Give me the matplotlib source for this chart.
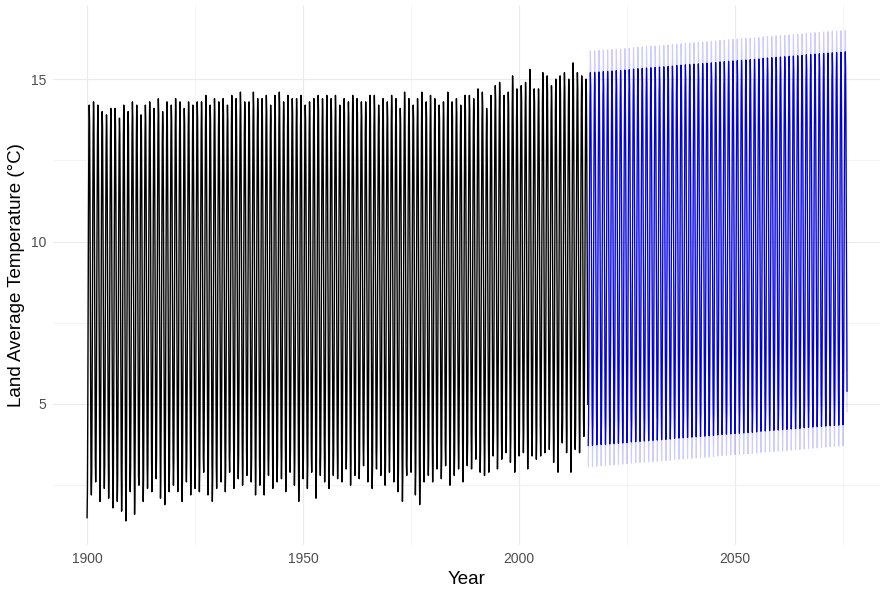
import numpy as np
import matplotlib.pyplot as plt

# yearly summer peaks and winter troughs, 1900-2015
hist_years = list(range(1900, 2016))
hist_peaks = [
    14.2, 14.3, 14.2, 14.0, 13.9, 14.1, 14.1, 13.8, 14.2, 14.0,
    14.3, 14.2, 13.9, 14.2, 14.3, 14.1, 14.4, 14.0, 14.3, 14.2,
    14.4, 14.3, 14.1, 14.3, 14.2, 14.3, 14.3, 14.5, 14.2, 14.4,
    14.3, 14.4, 14.2, 14.5, 14.4, 14.6, 14.3, 14.3, 14.6, 14.4,
    14.4, 14.5, 14.2, 14.5, 14.6, 14.3, 14.5, 14.4, 14.4, 14.5,
    14.2, 14.3, 14.4, 14.5, 14.4, 14.5, 14.4, 14.5, 14.2, 14.4,
    14.3, 14.5, 14.4, 14.3, 14.3, 14.5, 14.5, 14.2, 14.4, 14.3,
    14.5, 14.4, 14.1, 14.6, 14.4, 14.2, 14.4, 14.6, 14.3, 14.5,
    14.4, 14.2, 14.3, 14.6, 14.3, 14.4, 14.2, 14.5, 14.5, 14.4,
    14.7, 14.6, 14.1, 14.5, 14.8, 14.9, 14.5, 14.6, 15.1, 14.7,
    14.8, 14.9, 15.3, 14.7, 14.7, 15.2, 15.1, 14.8, 15.0, 15.1,
    15.2, 15.0, 15.5, 15.2, 15.1, 15.0,
]
hist_troughs = [
    1.5, 2.2, 2.6, 2.0, 2.4, 2.1, 1.8, 2.0, 1.7, 1.4,
    2.3, 1.6, 2.5, 2.0, 2.4, 2.3, 2.7, 2.1, 1.9, 2.3,
    2.5, 2.3, 2.0, 2.6, 2.2, 2.4, 2.3, 2.9, 2.2, 2.0,
    2.4, 2.6, 2.3, 2.9, 2.4, 2.7, 2.5, 2.8, 2.6, 2.2,
    2.5, 2.2, 2.8, 2.4, 2.6, 2.7, 2.3, 2.9, 2.5, 2.0,
    2.7, 2.4, 2.9, 2.1, 2.8, 2.6, 2.4, 2.8, 2.7, 2.6,
    3.0, 2.5, 2.8, 2.7, 3.1, 2.6, 2.4, 3.0, 2.8, 2.5,
    2.9, 2.6, 2.3, 2.0, 2.8, 2.9, 2.2, 1.9, 2.6, 2.8,
    2.6, 3.0, 2.7, 3.1, 2.5, 2.8, 3.0, 2.6, 3.1, 3.0,
    3.3, 2.9, 2.8, 2.9, 3.4, 3.0, 3.3, 3.5, 3.2, 2.9,
    3.4, 3.5, 3.0, 3.4, 3.3, 3.4, 3.5, 3.6, 3.2, 2.9,
    3.8, 3.5, 2.9, 3.6, 3.5, 4.0,
]

# forecast peaks and troughs, 2016-2075
fc_years = list(range(2016, 2076))
fc_peaks = [
    15.20, 15.21, 15.22, 15.23, 15.24, 15.25, 15.26, 15.27, 15.28, 15.29,
    15.31, 15.32, 15.33, 15.34, 15.35, 15.36, 15.37, 15.38, 15.39, 15.40,
    15.42, 15.43, 15.44, 15.45, 15.46, 15.47, 15.48, 15.49, 15.50, 15.51,
    15.53, 15.54, 15.55, 15.56, 15.57, 15.58, 15.59, 15.60, 15.61, 15.62,
    15.64, 15.65, 15.66, 15.67, 15.68, 15.69, 15.70, 15.71, 15.72, 15.73,
    15.75, 15.76, 15.77, 15.78, 15.79, 15.80, 15.81, 15.82, 15.83, 15.84,
]
fc_troughs = [
    3.72, 3.73, 3.74, 3.75, 3.76, 3.77, 3.78, 3.79, 3.80, 3.81,
    3.83, 3.84, 3.85, 3.86, 3.87, 3.88, 3.89, 3.90, 3.91, 3.92,
    3.94, 3.95, 3.96, 3.97, 3.98, 3.99, 4.00, 4.01, 4.02, 4.03,
    4.05, 4.06, 4.07, 4.08, 4.09, 4.10, 4.11, 4.12, 4.13, 4.14,
    4.16, 4.17, 4.18, 4.19, 4.20, 4.21, 4.22, 4.23, 4.24, 4.25,
    4.27, 4.28, 4.29, 4.30, 4.31, 4.32, 4.33, 4.34, 4.35, 4.36,
]
# half width of the forecast interval, by month (Jan..Dec)
fc_halfwidth = [0.65, 0.62, 0.60, 0.58, 0.60, 0.63, 0.66, 0.64, 0.60, 0.58, 0.60, 0.63]

# seasonal position between the year's trough (0) and peak (1), Jan..Dec
season = [0.0, 0.06, 0.24, 0.50, 0.74, 0.92, 1.0, 0.96, 0.80, 0.56, 0.29, 0.09]


def monthly(years, peaks, troughs):
    t, v = [], []
    for y, hi, lo in zip(years, peaks, troughs):
        for m, s in enumerate(season):
            t.append(y + m / 12)
            v.append(lo + s * (hi - lo))
    return np.array(t), np.array(v)


t_hist, v_hist = monthly(hist_years, hist_peaks, hist_troughs)
t_fc, v_fc = monthly(fc_years, fc_peaks, fc_troughs)
hw = np.tile(fc_halfwidth, len(fc_years))

fig = plt.figure(figsize=(8.82, 5.94), dpi=100)
ax = fig.add_axes([0.060, 0.0825, 0.938, 0.909])

ax.plot(t_fc, v_fc + hw, color='blue', lw=0.8, alpha=0.2)
ax.plot(t_fc, v_fc - hw, color='blue', lw=0.8, alpha=0.2)
ax.plot(t_hist, v_hist, color='black', lw=1.0)
ax.plot(t_fc, v_fc, color='#0000DD', lw=0.9)

ax.set_xlim(1892.1, 2083.6)
ax.set_ylim(0.66, 17.28)
ax.set_xticks([1900, 1950, 2000, 2050])
ax.set_xticks([1925, 1975, 2025, 2075], minor=True)
ax.set_yticks([5, 10, 15])
ax.set_yticks([2.5, 7.5, 12.5], minor=True)
ax.grid(which='major', color='#EBEBEB', lw=0.8)
ax.grid(which='minor', color='#F2F2F2', lw=0.6)
ax.set_axisbelow(True)
for s in ax.spines.values():
    s.set_visible(False)
ax.tick_params(which='both', length=0, labelsize=10, labelcolor='#4D4D4D', pad=5)
for lab in ax.get_xticklabels() + ax.get_yticklabels():
    lab.set_family('Liberation Sans')

ax.set_xlabel('Year', fontsize=13.5, family='Liberation Sans', labelpad=4)
ax.set_ylabel('Land Average Temperature (°C)', fontsize=13.5, family='Liberation Sans', labelpad=4)

fig.savefig('out.png', dpi=100, facecolor='white')
